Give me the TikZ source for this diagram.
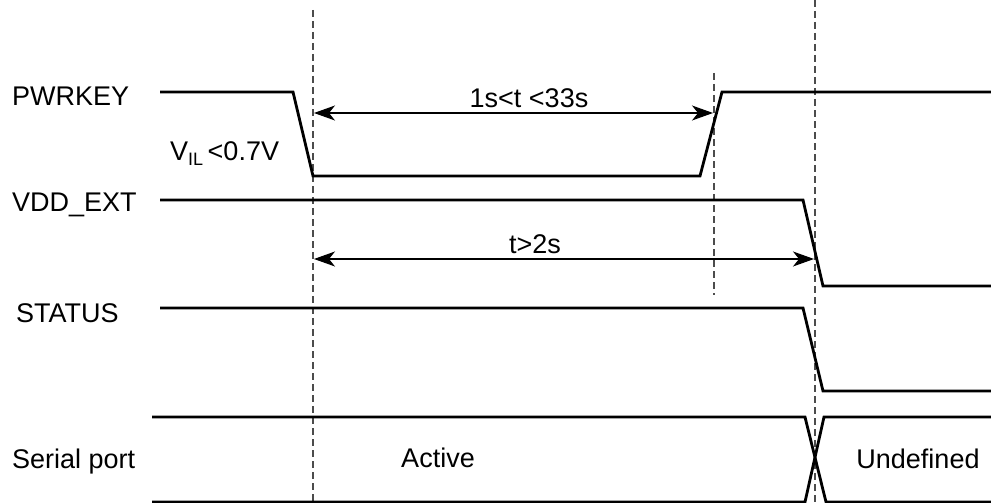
\documentclass[tikz,border=0pt]{standalone}
\usepackage{fontspec}
\setmainfont{Liberation Sans}
\usetikzlibrary{
  arrows.meta,
  positioning
}
\tikzset{
  x = 1pt,
  y = -1pt,
  every node/.style = {inner sep=0pt, font=\fontsize{27}{30}\selectfont},
  signame/.style = {anchor=base west},
  signal/.style = {line width=2.8pt, line join=miter},
  marker/.style = {gray!60!black, line width=1.2pt, dash pattern=on 7pt off 4pt},
  span/.style = {<->, >={Stealth[length=21pt, width=15pt, inset=6pt]}, line width=1.1pt},
}

\begin{document}
\begin{tikzpicture}
  \useasboundingbox (0,0) rectangle (991,503);
  % signal names
  \node[signame] (pwrkey) at (12,105) {PWRKEY};
  \node[signame] (vddext) at (12,211) {VDD\_EXT};
  \node[signame] (status) at (16,322) {STATUS};
  \node[signame] (serial) at (12,468) {Serial port};
  % time markers
  \coordinate (m1top) at (313,10);
  \coordinate (m1bot) at (313,503);
  \coordinate (m2top) at (714,73);
  \coordinate (m2bot) at (714,295);
  \coordinate (m3top) at (815,0);
  \coordinate (m3bot) at (815,503);
  \foreach \m in {1,2,3}
    \draw[marker] (m\m top) -- (m\m bot);
  % waveforms
  \draw[signal] (160,92) -- (293,92) -- (313,176) -- (700,176) -- (722,92) -- (991,92);
  \draw[signal] (160,200) -- (803,200) -- (823,286) -- (991,286);
  \draw[signal] (160,308) -- (803,308) -- (823,391) -- (991,391);
  \draw[signal] (152,417) -- (805,417) -- (826,502) -- (991,502);
  \draw[signal] (152,502) -- (805,502) -- (824,417) -- (991,417);
  % timings
  \coordinate (t1l) at (314,113);
  \coordinate (t1r) at (713,113);
  \coordinate (t2l) at (314,259);
  \coordinate (t2r) at (814,259);
  \draw[span] (t1l) -- (t1r);
  \draw[span] (t2l) -- (t2r);
  \node[anchor=base] (tpress) at (529,107) {1s<t <33s};
  \node[anchor=base] (toff) at (535,253) {t>2s};
  \node[anchor=base west] (vil) at (170,160)
    {V\raisebox{-5pt}{\fontsize{18}{18}\selectfont IL}\,<0.7V};
  \node[anchor=base] (active) at (438,467) {Active};
  \node[anchor=base] (undef) at (918,468) {Undefined};
\end{tikzpicture}
\end{document}
